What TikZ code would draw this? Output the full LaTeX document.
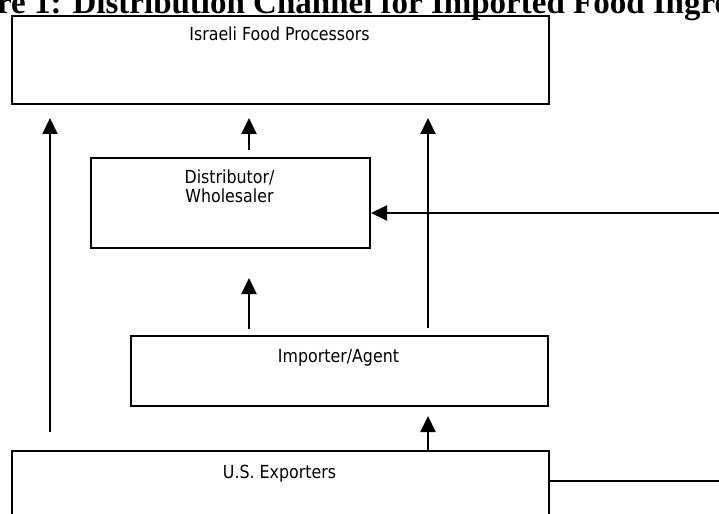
\documentclass[tikz,border=0pt]{standalone}
\usepackage{fontspec}
\setmainfont{DejaVu Sans}
\newfontfamily\lblfont{DejaVu Sans}[FakeStretch=0.88]
\newfontfamily\titlefont{Liberation Serif}
\usetikzlibrary{arrows.meta}
\begin{document}
\begin{tikzpicture}[x=1bp,y=-1bp,
  box/.style={draw, line width=2bp, inner sep=0pt, anchor=north west},
  lbl/.style={anchor=base, inner sep=0pt, font=\lblfont\fontsize{18bp}{19bp}\selectfont, align=center},
  arr/.style={line width=2bp, -{Triangle[width=15bp,length=16bp]}},
  ln/.style={line width=2bp}]
\useasboundingbox (0,0) rectangle (719,514);
\clip (0,0) rectangle (719,514);
\node[anchor=base west, inner sep=0pt, font=\titlefont\bfseries\fontsize{33bp}{38bp}\selectfont] (title) at (-67.2,14) {Figure 1: Distribution Channel for Imported Food Ingredients};
\node[box, minimum width=537bp, minimum height=88bp] (proc) at (11,15) {};
\node[box, minimum width=279bp, minimum height=90bp] (dist) at (90,157) {};
\node[box, minimum width=417bp, minimum height=70bp] (imp) at (130,335) {};
\node[box, minimum width=537bp, minimum height=100bp] (us) at (11,450) {};
\node[lbl] (procl) at (279.5,41) {Israeli Food Processors};
\node[lbl] (distl) at (229.5,203) {Distributor/\\Wholesaler};
\node[lbl] (impl) at (338.5,362) {Importer/Agent};
\node[lbl] (usl) at (279.5,478) {U.S. Exporters};
\coordinate (xl) at (50,0);
\coordinate (xm) at (249,0);
\coordinate (xr) at (428,0);
\coordinate (hr) at (719,213);
\coordinate (hl) at (719,481);
\draw[arr, shorten <=18bp, shorten >=13bp] (us.north -| xl) -- (proc.south -| xl);
\draw[arr, shorten <=7bp, shorten >=13bp] (dist.north -| xm) -- (proc.south -| xm);
\draw[arr, shorten <=7bp, shorten >=13bp] (imp.north -| xr) -- (proc.south -| xr);
\draw[arr] (hr) -- (dist.east |- hr);
\draw[arr, shorten <=6bp, shorten >=29bp] (imp.north -| xm) -- (dist.south -| xm);
\draw[arr, shorten >=9bp] (us.north -| xr) -- (imp.south -| xr);
\draw[ln] (us.east |- hl) -- (hl);
\end{tikzpicture}
\end{document}
